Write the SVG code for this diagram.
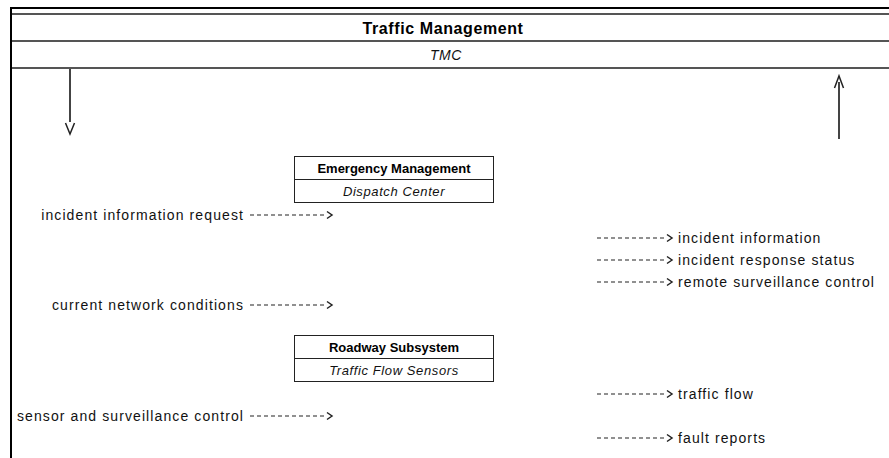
<svg xmlns="http://www.w3.org/2000/svg" width="889" height="458" viewBox="0 0 889 458">
  <defs>
    <style>
      .frame { stroke: #000; stroke-width: 2; fill: none; }
      .rule { stroke: #555; stroke-width: 2; fill: none; }
      .box { fill: #fff; stroke: #222; stroke-width: 1; }
      .title { font-family: "Liberation Sans", Arial, sans-serif; font-size: 16px; font-weight: bold; fill: #000; text-anchor: middle; letter-spacing: 0.6px; }
      .sub { font-family: "Liberation Sans", Arial, sans-serif; font-size: 14px; font-style: italic; fill: #111; text-anchor: middle; letter-spacing: 0.6px; }
      .ntitle { font-family: "Liberation Sans", Arial, sans-serif; font-size: 13px; font-weight: bold; fill: #000; text-anchor: middle; }
      .nsub { font-family: "Liberation Sans", Arial, sans-serif; font-size: 13px; font-style: italic; fill: #111; text-anchor: middle; letter-spacing: 0.6px; }
      .lbl { font-family: "Liberation Sans", Arial, sans-serif; font-size: 14px; fill: #111; letter-spacing: 1.1px; }
      .lbl.end { text-anchor: end; }
      .dash { stroke: #222; stroke-width: 1.2; stroke-dasharray: 4 3; fill: none; }
      .chev { stroke: #222; stroke-width: 1.5; fill: none; }
      .flow { stroke: #444; stroke-width: 2; fill: none; }
    </style>
  </defs>

  <rect width="889" height="458" fill="#fff"/>

  <!-- outer frame of the Traffic Management subsystem -->
  <g id="traffic-management">
    <line class="frame" x1="10" y1="8" x2="889" y2="8"/>
    <line class="frame" x1="11" y1="7" x2="11" y2="458"/>
    <line class="rule" x1="12" y1="14" x2="889" y2="14"/>
    <line class="rule" x1="12" y1="41" x2="889" y2="41"/>
    <line class="rule" x1="12" y1="68" x2="889" y2="68"/>
    <text class="title" x="443" y="34">Traffic Management</text>
    <text class="sub" x="446" y="60">TMC</text>
  </g>

  <g id="emergency-management">
    <rect class="box" x="294.5" y="156.5" width="199" height="46"/>
    <line class="box" x1="294.5" y1="179.5" x2="493.5" y2="179.5"/>
    <text class="ntitle" x="394" y="173">Emergency Management</text>
    <text class="nsub" x="394" y="196">Dispatch Center</text>
  </g>

  <g id="roadway-subsystem">
    <rect class="box" x="294.5" y="335.5" width="199" height="46"/>
    <line class="box" x1="294.5" y1="358.5" x2="493.5" y2="358.5"/>
    <text class="ntitle" x="394" y="352">Roadway Subsystem</text>
    <text class="nsub" x="394" y="375">Traffic Flow Sensors</text>
  </g>

  <!-- connectors -->
  <g id="connectors">
    <line class="flow" x1="70" y1="69" x2="70" y2="122"/>
    <polyline class="chev" points="65.5,123 70,134 74.5,123"/>
    <line class="flow" x1="839" y1="82" x2="839" y2="139"/>
    <polyline class="chev" points="834.5,88 839,76 843.5,88"/>

    <!-- inbound flows -->
    <line class="dash" x1="250" y1="215" x2="327" y2="215"/>
    <polyline class="chev" points="327,211.5 332,215 327,218.5"/>
    <line class="dash" x1="250" y1="305" x2="327" y2="305"/>
    <polyline class="chev" points="327,301.5 332,305 327,308.5"/>
    <line class="dash" x1="250" y1="416" x2="327" y2="416"/>
    <polyline class="chev" points="327,412.5 332,416 327,419.5"/>

    <!-- outbound flows -->
    <line class="dash" x1="597" y1="238" x2="667" y2="238"/>
    <polyline class="chev" points="667,234.5 672,238 667,241.5"/>
    <line class="dash" x1="597" y1="260" x2="667" y2="260"/>
    <polyline class="chev" points="667,256.5 672,260 667,263.5"/>
    <line class="dash" x1="597" y1="282" x2="667" y2="282"/>
    <polyline class="chev" points="667,278.5 672,282 667,285.5"/>
    <line class="dash" x1="597" y1="394" x2="667" y2="394"/>
    <polyline class="chev" points="667,390.5 672,394 667,397.5"/>
    <line class="dash" x1="597" y1="438" x2="667" y2="438"/>
    <polyline class="chev" points="667,434.5 672,438 667,441.5"/>
  </g>

  <g id="flow-labels">
    <text class="lbl end" x="244" y="220">incident information request</text>
    <text class="lbl end" x="244" y="310">current network conditions</text>
    <text class="lbl end" x="244" y="421">sensor and surveillance control</text>
    <text class="lbl" x="678" y="243">incident information</text>
    <text class="lbl" x="678" y="265">incident response status</text>
    <text class="lbl" x="678" y="287">remote surveillance control</text>
    <text class="lbl" x="678" y="399">traffic flow</text>
    <text class="lbl" x="678" y="443">fault reports</text>
  </g>
</svg>
